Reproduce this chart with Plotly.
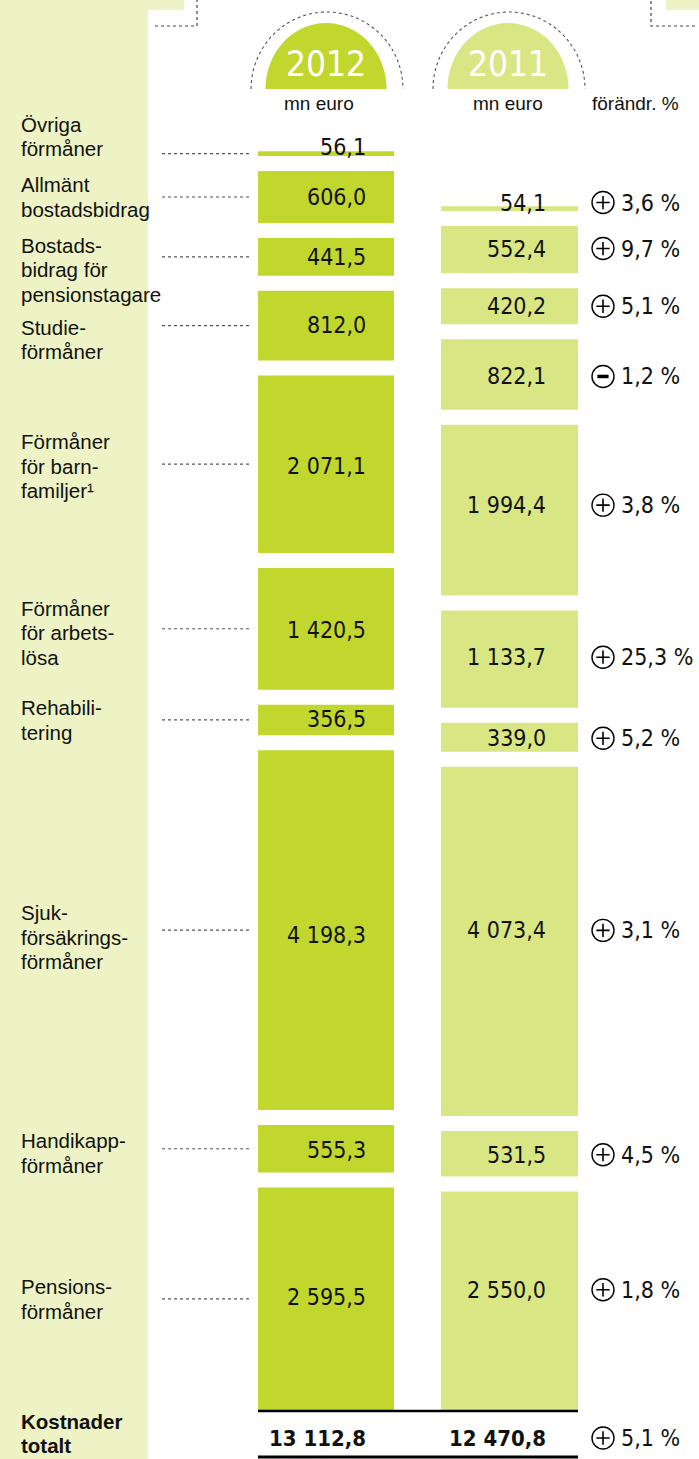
import numpy as np
import plotly.graph_objects as go

# ---------------- data ----------------
CATEGORIES = [
    "Övriga<br>förmåner",
    "Allmänt<br>bostadsbidrag",
    "Bostads-<br>bidrag för<br>pensionstagare",
    "Studie-<br>förmåner",
    "Förmåner<br>för barn-<br>familjer¹",
    "Förmåner<br>för arbets-<br>lösa",
    "Rehabili-<br>tering",
    "Sjuk-<br>försäkrings-<br>förmåner",
    "Handikapp-<br>förmåner",
    "Pensions-<br>förmåner",
]
VAL_2012 = [56.1, 606.0, 441.5, 812.0, 2071.1, 1420.5, 356.5, 4198.3, 555.3, 2595.5]
VAL_2011 = [54.1, 552.4, 420.2, 822.1, 1994.4, 1133.7, 339.0, 4073.4, 531.5, 2550.0]
CHANGE_PCT = [3.6, 9.7, 5.1, -1.2, 3.8, 25.3, 5.2, 3.1, 4.5, 1.8]
TOTAL_LABEL = "Kostnader<br>totalt"
TOTAL_2012 = 13112.8
TOTAL_2011 = 12470.8
TOTAL_CHANGE = 5.1
YEARS = ["2012", "2011"]
UNIT = "mn euro"
CHANGE_HEADER = "förändr. %"

# ---------------- layout constants ----------------
W, H = 699, 1459
S = 0.0857          # px per mn euro
BASE_PX = 1410      # pixel row of value 0
GAP = 15 / S        # gap between blocks (data units)
C2012, C2011 = "#c1d72e", "#d9e684"
PANEL = "#edf3c4"
NUM_FONT = "Liberation Sans Narrow, DejaVu Sans Condensed, Liberation Sans, Arial"
LAB_FONT = "Liberation Sans, Arial"
LAB_SIZE = 20.5
NUM_SIZE = 23
LINE_H = 24.5
X12, X11, BW = 326, 509.5, 136
XTXT12, XTXT11 = 368, 548
XCIRC = 603

LABEL_SHIFT = [17, 0, -13, -14, -2, -4, 0, -7, -4, 0]
SHIFT12 = [7, 0, 0, 1, -2, -1, 1, -5, -1, 2]
SHIFT11 = [6, 1, 0, -2, 5, 2, -1, 11, -1, 11]


def paper(p):
    return 1 - p / H


def stack_bases(vals):
    b = [0.0] * len(vals)
    cur = 0.0
    for i in reversed(range(len(vals))):
        b[i] = cur
        cur += vals[i] + GAP
    return b


def fmt(v):
    return f"{v:,.1f}".replace(",", " ").replace(".", ",")


B12 = stack_bases(VAL_2012)
B11 = stack_bases(VAL_2011)
MID12 = [b + v / 2 for b, v in zip(B12, VAL_2012)]
MID11 = [b + v / 2 for b, v in zip(B11, VAL_2011)]

fig = go.Figure()
fig.add_trace(go.Bar(x=[X12] * len(VAL_2012), y=VAL_2012, base=B12, width=BW,
                     marker=dict(color=C2012, line=dict(width=0)), hoverinfo="skip"))
fig.add_trace(go.Bar(x=[X11] * len(VAL_2011), y=VAL_2011, base=B11, width=BW + 1,
                     marker=dict(color=C2011, line=dict(width=0)), hoverinfo="skip"))

# change markers
ych = [m + s / S for m, s in zip(MID11, SHIFT11)]
ytot = (BASE_PX - 1438) / S
fig.add_trace(go.Scatter(x=[XCIRC] * (len(ych) + 1), y=ych + [ytot], mode="markers",
                         marker=dict(symbol="circle-open", size=22, color="black",
                                     line=dict(width=1.4, color="black")), hoverinfo="skip"))
pos_y = [y for y, c in zip(ych, CHANGE_PCT) if c >= 0] + ([ytot] if TOTAL_CHANGE >= 0 else [])
neg_y = [y for y, c in zip(ych, CHANGE_PCT) if c < 0] + ([ytot] if TOTAL_CHANGE < 0 else [])
fig.add_trace(go.Scatter(x=[XCIRC] * len(pos_y), y=pos_y, mode="markers",
                         marker=dict(symbol="cross-thin-open", size=9.5, color="black",
                                     line=dict(width=1.6, color="black")), hoverinfo="skip"))
fig.add_trace(go.Scatter(x=[XCIRC] * len(neg_y), y=neg_y, mode="markers",
                         marker=dict(symbol="line-ew-open", size=8, color="black",
                                     line=dict(width=3.5, color="black")), hoverinfo="skip"))

shapes = []
ann = []
# left panel & decorative corners
shapes.append(dict(type="rect", xref="x", yref="paper", x0=0, x1=148, y0=0, y1=1,
                   fillcolor=PANEL, line=dict(width=0), layer="below"))
shapes.append(dict(type="rect", xref="x", yref="paper", x0=0, x1=184, y0=paper(10), y1=1,
                   fillcolor=PANEL, line=dict(width=0), layer="below"))
shapes.append(dict(type="rect", xref="x", yref="paper", x0=666, x1=699, y0=paper(10), y1=1,
                   fillcolor=PANEL, line=dict(width=0), layer="below"))
dot = dict(color="#444", width=1.2, dash="dot")
shapes.append(dict(type="path", xref="x", yref="paper",
                   path=f"M155,{paper(26)} L197,{paper(26)} L197,{paper(0)}", line=dot))
shapes.append(dict(type="path", xref="x", yref="paper",
                   path=f"M695,{paper(26)} L651,{paper(26)} L651,{paper(0)}", line=dot))


def half_ellipse(cx, cy, rx, ry, closed):
    t = np.linspace(np.pi, 0, 60)
    xs = cx + rx * np.cos(t)
    ys = cy - ry * np.sin(t)
    d = "M" + " L".join(f"{x:.2f},{paper(y):.5f}" for x, y in zip(xs, ys))
    return d + (" Z" if closed else "")


for cx, col, yr in [(326, C2012, YEARS[0]), (508, C2011, YEARS[1])]:
    shapes.append(dict(type="path", xref="x", yref="paper", path=half_ellipse(cx, 89, 60.5, 66, True),
                       fillcolor=col, line=dict(width=0)))
    shapes.append(dict(type="path", xref="x", yref="paper", path=half_ellipse(cx + 1, 89, 76, 77, False),
                       line=dict(color="#555", width=1.1, dash="dot")))
    ann.append(dict(x=cx, y=paper(64), xref="x", yref="paper", text=yr, showarrow=False,
                    font=dict(family=NUM_FONT, size=35, color="white"), xanchor="center", yanchor="middle"))

for xc, txt, anc in [(319, UNIT, "center"), (508, UNIT, "center"), (590, CHANGE_HEADER, "left")]:
    ann.append(dict(x=xc, y=paper(104), xref="x", yref="paper", text=txt, showarrow=False,
                    font=dict(family=LAB_FONT, size=19, color="#111"), xanchor=anc, yanchor="middle"))


def label_lines(text, center_px, bold=False):
    lines = text.split("<br>")
    n = len(lines)
    for k, ln in enumerate(lines):
        ypx = center_px + (k - (n - 1) / 2) * LINE_H
        ann.append(dict(x=19, y=paper(ypx), xref="x", yref="paper",
                        text=f"<b>{ln}</b>" if bold else ln, showarrow=False,
                        xanchor="left", yanchor="middle",
                        font=dict(family=LAB_FONT, size=LAB_SIZE, color="#111")))


for i, cat in enumerate(CATEGORIES):
    center_px = BASE_PX - MID12[i] * S - LABEL_SHIFT[i]
    label_lines(cat, center_px)
    shapes.append(dict(type="line", xref="x", yref="y", x0=162, x1=250, y0=MID12[i], y1=MID12[i],
                       line=dict(color="#555", width=1.2, dash="dot")))
    ann.append(dict(x=XTXT12, y=MID12[i], xref="x", yref="y", text=fmt(VAL_2012[i]), showarrow=False,
                    xanchor="right", yanchor="middle", yshift=SHIFT12[i],
                    font=dict(family=NUM_FONT, size=NUM_SIZE, color="#111")))
    ann.append(dict(x=XTXT11, y=MID11[i], xref="x", yref="y", text=fmt(VAL_2011[i]), showarrow=False,
                    xanchor="right", yanchor="middle", yshift=SHIFT11[i],
                    font=dict(family=NUM_FONT, size=NUM_SIZE, color="#111")))
    ann.append(dict(x=619, y=ych[i], xref="x", yref="y", text=fmt(abs(CHANGE_PCT[i])) + " %",
                    showarrow=False, xanchor="left", yanchor="middle",
                    font=dict(family=NUM_FONT, size=NUM_SIZE, color="#111")))

# totals
shapes.append(dict(type="line", xref="x", yref="paper", x0=258, x1=578, y0=paper(1411), y1=paper(1411),
                   line=dict(color="black", width=2.5)))
shapes.append(dict(type="line", xref="x", yref="paper", x0=258, x1=578, y0=paper(1457), y1=paper(1457),
                   line=dict(color="black", width=3)))
label_lines(TOTAL_LABEL, 1433.5, bold=True)
for xt, tv in [(XTXT12, TOTAL_2012), (XTXT11, TOTAL_2011)]:
    ann.append(dict(x=xt, y=ytot, xref="x", yref="y", text=f"<b>{fmt(tv)}</b>", showarrow=False,
                    xanchor="right", yanchor="middle",
                    font=dict(family=NUM_FONT, size=22, color="#111")))
ann.append(dict(x=619, y=ytot, xref="x", yref="y", text=fmt(TOTAL_CHANGE) + " %", showarrow=False,
                xanchor="left", yanchor="middle", font=dict(family=NUM_FONT, size=NUM_SIZE, color="#111")))

fig.update_layout(
    width=W, height=H, autosize=False,
    margin=dict(l=0, r=0, t=0, b=0, pad=0),
    paper_bgcolor="white", plot_bgcolor="white",
    barmode="overlay", showlegend=False,
    xaxis=dict(range=[0, W], visible=False, fixedrange=True),
    yaxis=dict(range=[-(H - BASE_PX) / S, BASE_PX / S], visible=False, fixedrange=True),
    shapes=shapes, annotations=ann,
)
fig.write_html("out.html", config={"displayModeBar": False},
               post_script="document.body.style.margin='0px';document.body.style.padding='0px';")
